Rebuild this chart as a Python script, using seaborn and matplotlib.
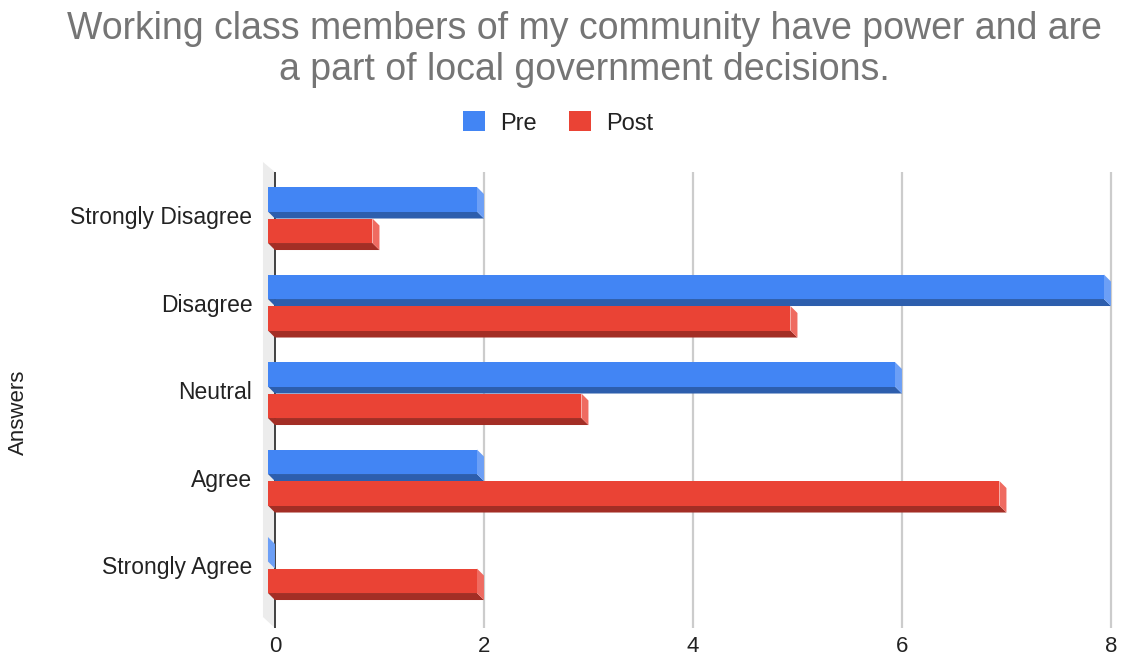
import matplotlib
matplotlib.use("Agg")
import matplotlib.pyplot as plt
from matplotlib.patches import Polygon, Patch
import matplotlib.transforms as mtransforms
import seaborn as sns
import pandas as pd

answers = ["Strongly Disagree", "Disagree", "Neutral", "Agree", "Strongly Agree"]
pre = [2, 8, 6, 2, 0]
post = [1, 5, 3, 7, 2]
series = ["Pre", "Post"]
x_ticks = [0, 2, 4, 6, 8]

title_lines = ["Working class members of my community have power and are",
               "a part of local government decisions."]

face = {"Pre": "#4285f4", "Post": "#ea4335"}
side = {"Pre": "#6c9ff6", "Post": "#ef6b61"}
bottom = {"Pre": "#2d5ead", "Post": "#a32e25"}

df = pd.DataFrame({
    "Answers": answers * 2,
    "Count": pre + post,
    "Series": ["Pre"] * len(answers) + ["Post"] * len(answers),
})

sns.set_theme(style="white")
plt.rcParams["font.family"] = ["Liberation Sans", "DejaVu Sans"]

fig = plt.figure(figsize=(11.22, 6.61), dpi=100)
ax = fig.add_axes([0.2311, 0.0446, 0.7637, 0.7135])

sns.barplot(data=df, y="Answers", x="Count", hue="Series", order=answers,
            hue_order=series, palette=face, orient="h", width=0.72,
            legend=False, ax=ax, saturation=1, linewidth=0)

ax.set_xlim(-0.15, 8.05)
ax.set_ylim(4.72, -0.67)

# depth of the extruded bars, in data units
dx, dy = 0.067, 0.08

bar_groups = list(zip(series, ax.containers))

# left wall and grid
ax.add_patch(Polygon([(-0.115, -0.646), (0, -0.531), (0, 4.68), (-0.115, 4.554)],
                     closed=True, facecolor="#ececec", edgecolor="none", zorder=0))
ax.vlines([t for t in x_ticks if t > 0], -0.531, 4.68, color="#cccccc", lw=1.6, zorder=0.5)
ax.vlines([0], -0.531, 4.68, color="#333333", lw=1.3, zorder=0.6)

for key, container in bar_groups:
    for bar in container:
        w = bar.get_width()
        y0 = bar.get_y()
        h = bar.get_height()
        z = 2 + y0
        bar.set_x(-dx)
        bar.set_height(h - dy)
        bar.set_zorder(z + 0.02)
        ax.add_patch(Polygon([(-dx, y0 + h - dy), (w - dx, y0 + h - dy), (w, y0 + h), (0, y0 + h)],
                             closed=True, facecolor=bottom[key], edgecolor="none", zorder=z))
        ax.add_patch(Polygon([(w - dx, y0), (w, y0 + dy), (w, y0 + h), (w - dx, y0 + h - dy)],
                             closed=True, facecolor=side[key], edgecolor="none", zorder=z + 0.01))

for s in ax.spines.values():
    s.set_visible(False)

ax.set_xticks(x_ticks)
ax.set_xticklabels([str(t) for t in x_ticks], fontsize=16, color="#222222")
ax.tick_params(axis="x", length=0, pad=3)
ax.set_yticks(range(len(answers)))
ax.set_yticklabels(answers, fontsize=16.5, color="#222222")
ax.tick_params(axis="y", length=0, pad=5)
offset = mtransforms.ScaledTranslation(0, 3.5 / 100, fig.dpi_scale_trans)
for lbl in ax.get_yticklabels():
    lbl.set_transform(lbl.get_transform() + offset)
ax.set_xlabel("")
ax.set_ylabel("")
fig.text(18 / 1122, 1 - 412 / 661, "Answers", rotation=90, ha="center", va="center",
         fontsize=16, color="#222222")

fig.text(584 / 1122, 1 - 39 / 661, title_lines[0], ha="center", va="baseline",
         fontsize=27, color="#757575")
fig.text(584 / 1122, 1 - 80 / 661, title_lines[1], ha="center", va="baseline",
         fontsize=27, color="#757575")

handles = [Patch(facecolor=face[s], edgecolor="none", label=s) for s in series]
fig.legend(handles=handles, loc="center", bbox_to_anchor=(558 / 1122, 1 - 123 / 661),
           ncol=2, frameon=False, fontsize=17, handlelength=0.93, handleheight=0.93,
           handletextpad=0.64, columnspacing=1.35, labelcolor="#222222")

fig.savefig("out.png", dpi=100, facecolor="white")
